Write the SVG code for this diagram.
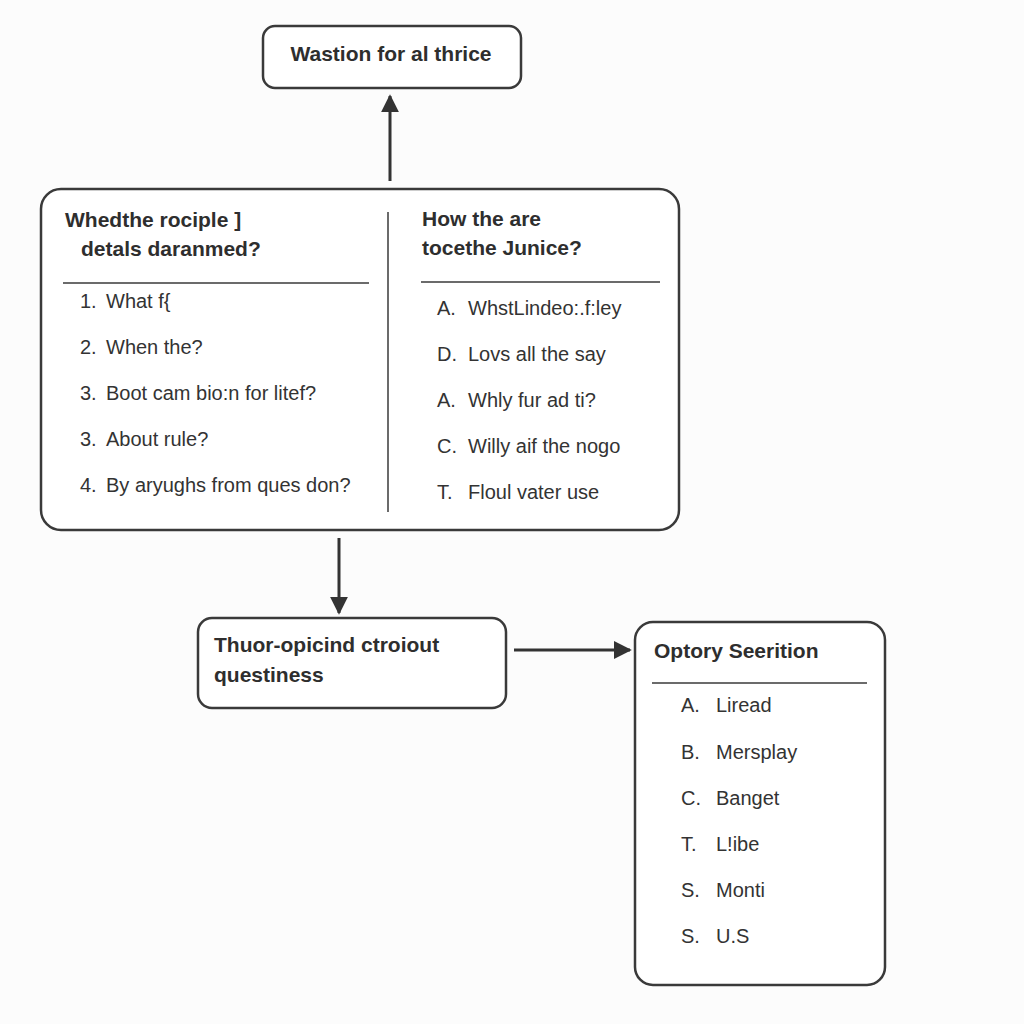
<svg xmlns="http://www.w3.org/2000/svg" width="1024" height="1024" viewBox="0 0 1024 1024">
<style>
.box{fill:#fff;stroke:#3a3a3a;stroke-width:2.5}
.rule{stroke:#3a3a3a;stroke-width:1.5}
.h{font-family:"Liberation Sans",Arial,sans-serif;font-weight:bold;font-size:21px;fill:#2e2e2e}
.t{font-family:"Liberation Sans",Arial,sans-serif;font-size:20px;fill:#333}
.con{stroke:#333;stroke-width:3;fill:none}
</style>
<defs>
<marker id="ah" viewBox="0 0 10 10" refX="9" refY="5" markerWidth="6" markerHeight="6.5" orient="auto" markerUnits="strokeWidth">
<path d="M0,0 L10,5 L0,10 z" fill="#333"/>
</marker>
</defs>
<rect width="1024" height="1024" fill="#fcfcfc"/>
<g id="connectors">
<line class="con" x1="390" y1="181" x2="390" y2="96" marker-end="url(#ah)"/>
<line class="con" x1="339" y1="538" x2="339" y2="613" marker-end="url(#ah)"/>
<line class="con" x1="514" y1="650" x2="630" y2="650" marker-end="url(#ah)"/>
</g>
<g id="top">
<rect class="box" x="263" y="26" width="258" height="62" rx="12"/>
<text class="h" x="391" y="61" text-anchor="middle">Wastion for al thrice</text>
</g>
<g id="main">
<rect class="box" x="41" y="189" width="638" height="341" rx="20"/>
<line class="rule" x1="388" y1="212" x2="388" y2="512"/>
<text class="h" x="65" y="227">Whedthe rociple ]</text>
<text class="h" x="81" y="256">detals daranmed?</text>
<line class="rule" x1="63" y1="283" x2="369" y2="283"/>
<text class="t" x="80" y="308">1.</text><text class="t" x="106" y="308">What f{</text>
<text class="t" x="80" y="354">2.</text><text class="t" x="106" y="354">When the?</text>
<text class="t" x="80" y="400">3.</text><text class="t" x="106" y="400">Boot cam bio:n for litef?</text>
<text class="t" x="80" y="446">3.</text><text class="t" x="106" y="446">About rule?</text>
<text class="t" x="80" y="492">4.</text><text class="t" x="106" y="492">By aryughs from ques don?</text>
<text class="h" x="422" y="226">How the are</text>
<text class="h" x="422" y="255">tocethe Junice?</text>
<line class="rule" x1="421" y1="282" x2="660" y2="282"/>
<text class="t" x="437" y="315">A.</text><text class="t" x="468" y="315">WhstLindeo:.f:ley</text>
<text class="t" x="437" y="361">D.</text><text class="t" x="468" y="361">Lovs all the say</text>
<text class="t" x="437" y="407">A.</text><text class="t" x="468" y="407">Whly fur ad ti?</text>
<text class="t" x="437" y="453">C.</text><text class="t" x="468" y="453">Willy aif the nogo</text>
<text class="t" x="437" y="499">T.</text><text class="t" x="468" y="499">Floul vater use</text>
</g>
<g id="middle">
<rect class="box" x="198" y="618" width="308" height="90" rx="14"/>
<text class="h" x="214" y="652">Thuor-opicind ctroiout</text>
<text class="h" x="214" y="682">questiness</text>
</g>
<g id="right">
<rect class="box" x="635" y="622" width="250" height="363" rx="18"/>
<text class="h" x="654" y="658">Optory Seerition</text>
<line class="rule" x1="652" y1="683" x2="867" y2="683"/>
<text class="t" x="681" y="712">A.</text><text class="t" x="716" y="712">Liread</text>
<text class="t" x="681" y="759">B.</text><text class="t" x="716" y="759">Mersplay</text>
<text class="t" x="681" y="805">C.</text><text class="t" x="716" y="805">Banget</text>
<text class="t" x="681" y="851">T.</text><text class="t" x="716" y="851">L!ibe</text>
<text class="t" x="681" y="897">S.</text><text class="t" x="716" y="897">Monti</text>
<text class="t" x="681" y="943">S.</text><text class="t" x="716" y="943">U.S</text>
</g>
</svg>
